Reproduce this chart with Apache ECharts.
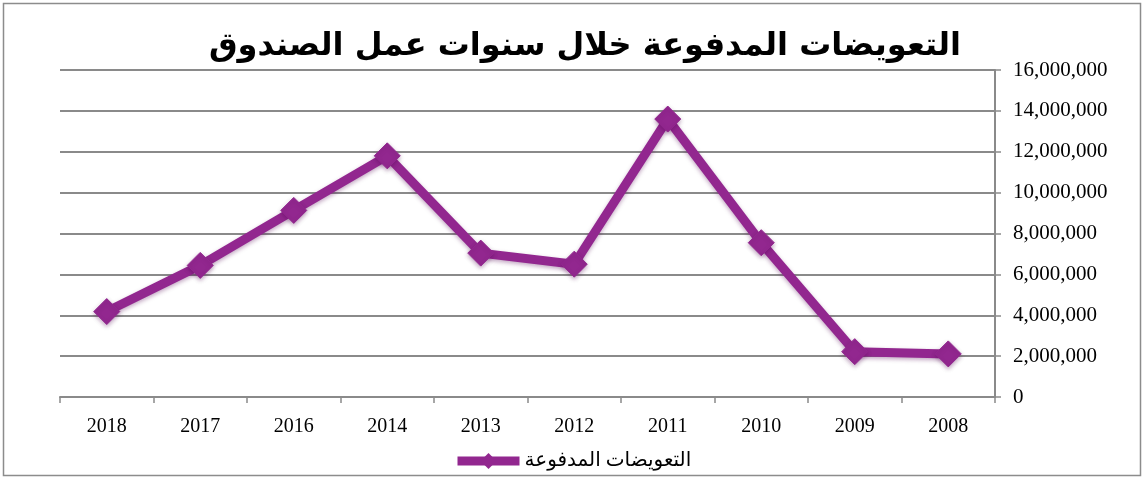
<!DOCTYPE html>
<html>
<head>
<meta charset="utf-8">
<script src="https://cdn.jsdelivr.net/npm/echarts@6/dist/echarts.min.js"></script>
<style>
    html, body { margin: 0; padding: 0; background: #fff; }
    #chart { width: 1144px; height: 479px; }
</style>
</head>
<body>
<div id="chart"></div>
<script>
// 年份（从左到右）
var years = ['2018', '2017', '2016', '2014', '2013', '2012', '2011', '2010', '2009', '2008'];
// 赔付金额
var paidValues = [4180000, 6440000, 9130000, 11800000, 7040000, 6500000, 13600000, 7550000, 2220000, 2110000];
var seriesName = 'التعويضات المدفوعة';
var titleText = 'التعويضات المدفوعة خلال سنوات عمل الصندوق';

var purple = '#92278f';

var option = {
    backgroundColor: '#ffffff',
    animation: false,
    title: {
        text: titleText,
        left: 580,
        top: 26,
        textAlign: 'center',
        textStyle: {
            fontFamily: 'DejaVu Sans',
            fontWeight: 'bold',
            fontSize: 32,
            color: '#000'
        }
    },
    graphic: [{
        type: 'rect',
        shape: { x: 3.5, y: 3.5, width: 1137, height: 472 },
        style: { fill: 'none', stroke: '#8c8c8c', lineWidth: 1.5 },
        silent: true
    }],
    legend: {
        left: 448,
        top: 446,
        itemWidth: 62,
        itemHeight: 20,
        itemGap: 2,
        data: [seriesName],
        lineStyle: { width: 9 },
        textStyle: {
            fontFamily: 'Liberation Serif, DejaVu Sans',
            fontSize: 20,
            color: '#000'
        }
    },
    grid: {
        left: 60,
        right: 149,
        top: 70,
        bottom: 82
    },
    xAxis: {
        type: 'category',
        data: years,
        boundaryGap: true,
        axisLine: { lineStyle: { color: '#8a8a8a', width: 2 } },
        axisTick: { show: true, length: 6, interval: 0, lineStyle: { color: '#8a8a8a', width: 1.5 } },
        axisLabel: {
            margin: 20,
            fontFamily: 'Liberation Serif',
            fontSize: 20,
            color: '#000'
        },
        splitLine: { show: false }
    },
    yAxis: {
        type: 'value',
        position: 'right',
        min: 0,
        max: 16000000,
        interval: 2000000,
        axisLine: { show: true, lineStyle: { color: '#8a8a8a', width: 2 } },
        axisTick: { show: true, length: 6, lineStyle: { color: '#8a8a8a', width: 1.5 } },
        axisLabel: {
            margin: 18,
            fontFamily: 'Liberation Serif',
            fontSize: 21,
            color: '#000',
            formatter: function (v) {
                return v.toLocaleString('en-US');
            }
        },
        splitLine: { show: true, lineStyle: { color: '#8a8a8a', width: 2 } }
    },
    series: [{
        name: seriesName,
        type: 'line',
        data: paidValues,
        symbol: 'diamond',
        symbolSize: 26,
        lineStyle: {
            color: purple,
            width: 9,
            shadowColor: 'rgba(80,0,80,0.35)',
            shadowBlur: 4,
            shadowOffsetY: 2
        },
        itemStyle: {
            color: purple,
            borderColor: purple,
            shadowColor: 'rgba(80,0,80,0.35)',
            shadowBlur: 4,
            shadowOffsetY: 2
        }
    }]
};

var myChart = echarts.init(document.getElementById('chart'));
myChart.setOption(option);
</script>
</body>
</html>
